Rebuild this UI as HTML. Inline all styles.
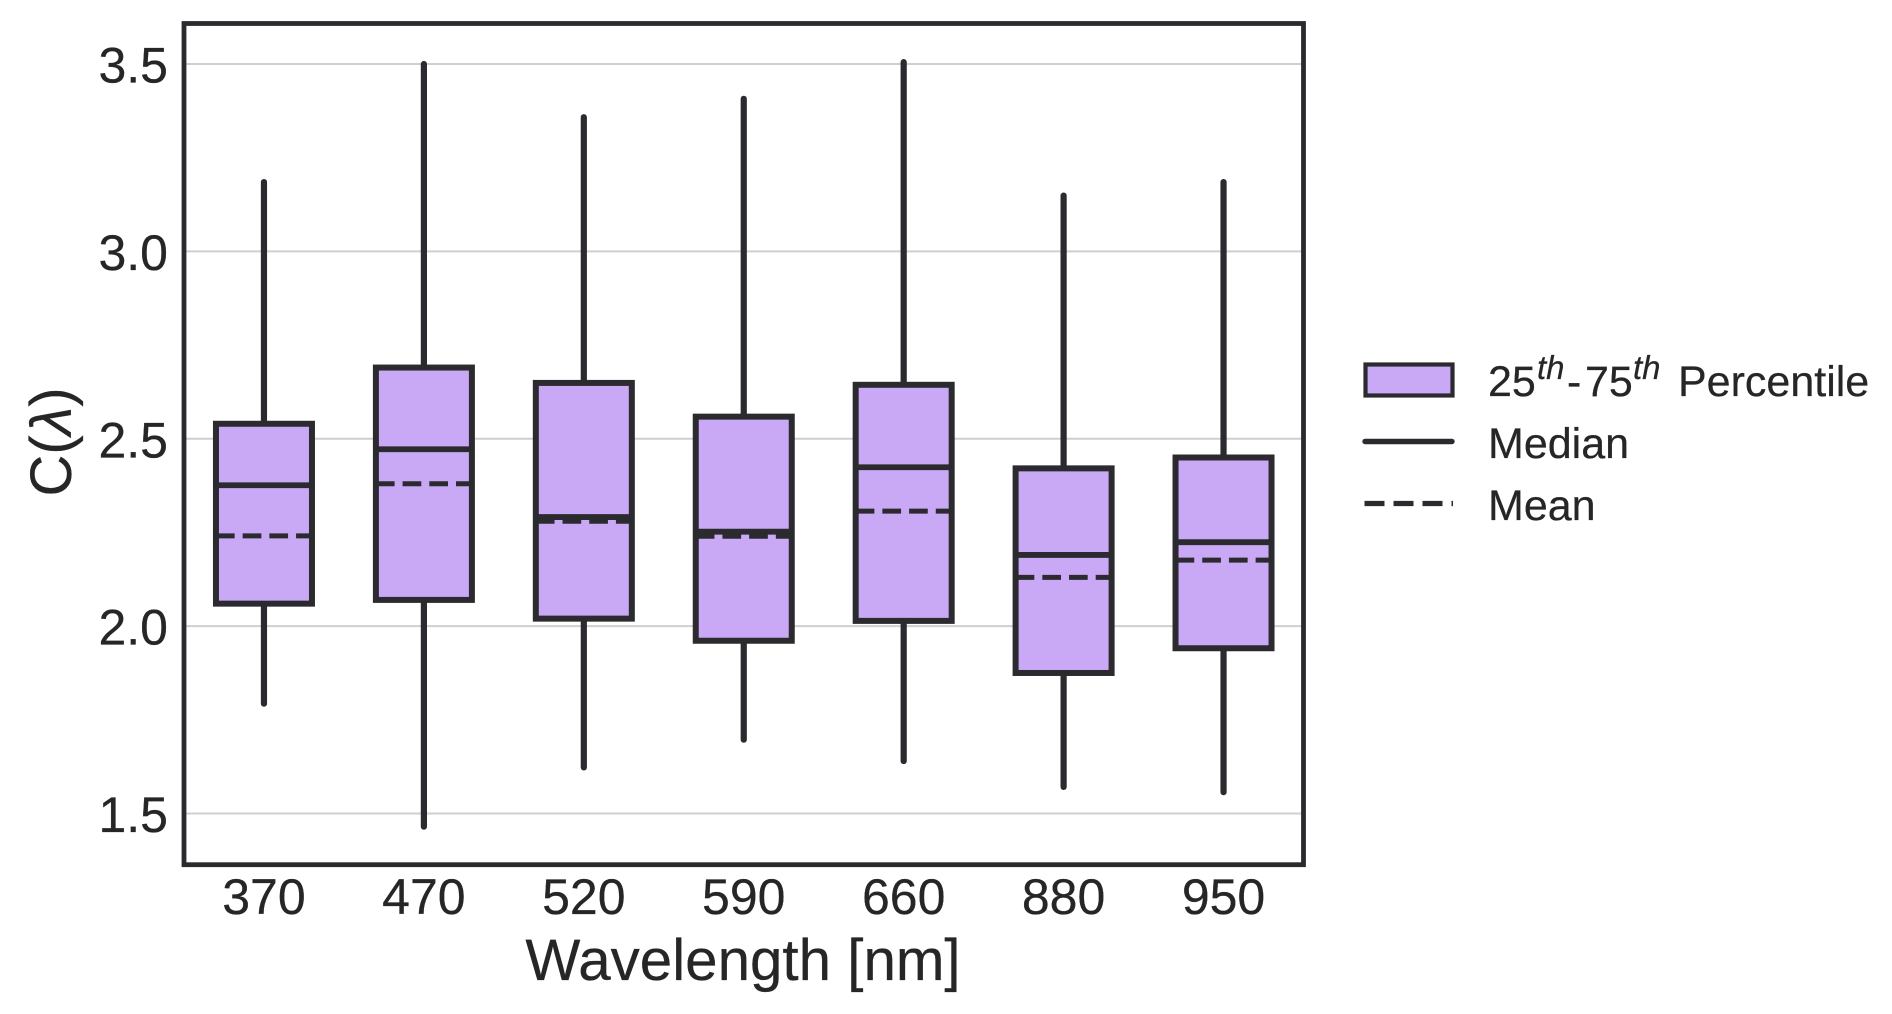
<!DOCTYPE html>
<html lang="en">
<head>
<meta charset="utf-8">
<title>C(λ) by wavelength box plot</title>
<style>
html, body { margin: 0; padding: 0; background: #fff; width: 1892px; height: 1014px; overflow: hidden; }
svg { display: block; }
text { font-family: "Liberation Sans", Arial, sans-serif; fill: #262626; stroke: #262626; stroke-width: 0.25px; }
</style>
</head>
<body>
<svg id="chart" xmlns="http://www.w3.org/2000/svg" width="1892" height="1014" viewBox="0 0 1892 1014">
  <rect x="0" y="0" width="1892" height="1014" fill="#ffffff"/>
  <g id="grid"></g>
  <g id="boxes"></g>
  <rect x="184" y="23.5" width="1119.5" height="841.2" fill="none" stroke="#2b2b2f" stroke-width="4.8"/>
  <g id="yticks"></g>
  <g id="xticks"></g>
  <text x="743" y="980" font-size="58.3" text-anchor="middle">Wavelength [nm]</text>
  <text transform="translate(71 442) rotate(-90)" font-size="58" text-anchor="middle">C(<tspan font-style="italic">λ</tspan>)</text>
  <g>
    <rect x="1365.5" y="364.5" width="87" height="31" fill="#c9a8f5" stroke="#2b2b2f" stroke-width="4.2"/>
    <text y="396" font-size="43"><tspan x="1488">25</tspan><tspan x="1537" y="379" font-size="33" font-style="italic">th</tspan><tspan x="1567" y="396">-</tspan><tspan x="1585" y="396">75</tspan><tspan x="1633" y="379" font-size="33" font-style="italic">th</tspan><tspan x="1678" y="396">Percentile</tspan></text>
    <line x1="1365" y1="441.5" x2="1452" y2="441.5" stroke="#2b2b2f" stroke-width="5.4" stroke-linecap="round"/>
    <text x="1488" y="458" font-size="43">Median</text>
    <line x1="1364.5" y1="503.5" x2="1453" y2="503.5" stroke="#2b2b2f" stroke-width="5.2" stroke-dasharray="20 9"/>
    <text x="1488" y="520" font-size="43">Mean</text>
  </g>
</svg>
<script>
const categories = ["370", "470", "520", "590", "660", "880", "950"];
const whiskerHigh = [3.185, 3.50, 3.358, 3.407, 3.505, 3.149, 3.185];
const whiskerLow = [1.793, 1.465, 1.623, 1.697, 1.64, 1.571, 1.557];
const q3 = [2.54, 2.69, 2.649, 2.559, 2.644, 2.421, 2.45];
const q1 = [2.06, 2.07, 2.02, 1.961, 2.014, 1.875, 1.941];
const medians = [2.376, 2.472, 2.291, 2.252, 2.424, 2.19, 2.224];
const means = [2.241, 2.38, 2.28, 2.24, 2.307, 2.13, 2.176];
const yTickValues = [1.5, 2.0, 2.5, 3.0, 3.5];
const yTickLabels = ["1.5", "2.0", "2.5", "3.0", "3.5"];

const NS = "http://www.w3.org/2000/svg";
const plotLeft = 184;
const plotRight = 1303.5;
const plotTop = 23.5;
const plotBottom = 864.7;
const yDomainMin = 1.3634;
const yDomainMax = 3.6081;
const boxWidth = 96;
const inkColor = "#2b2b2f";
const boxFill = "#c9a8f5";

function xScale(index) {
  const band = (plotRight - plotLeft) / categories.length;
  return plotLeft + band * (index + 0.5);
}
function yScale(value) {
  return plotBottom - (value - yDomainMin) / (yDomainMax - yDomainMin) * (plotBottom - plotTop);
}
function makeLine(x1, y1, x2, y2, width) {
  const el = document.createElementNS(NS, "line");
  el.setAttribute("x1", x1);
  el.setAttribute("y1", y1);
  el.setAttribute("x2", x2);
  el.setAttribute("y2", y2);
  el.setAttribute("stroke", inkColor);
  el.setAttribute("stroke-width", width);
  return el;
}

const gridGroup = document.getElementById("grid");
const yTickGroup = document.getElementById("yticks");
yTickValues.forEach(function (value, i) {
  const y = yScale(value);
  const gridLine = makeLine(plotLeft, y, plotRight, y, 2);
  gridLine.setAttribute("stroke", "#cfcfcf");
  
  
  gridGroup.appendChild(gridLine);

  const label = document.createElementNS(NS, "text");
  label.setAttribute("x", 168);
  label.setAttribute("y", y + 18.5);
  label.setAttribute("font-size", 50);
  label.setAttribute("text-anchor", "end");
  label.textContent = yTickLabels[i];
  
  
  yTickGroup.appendChild(label);
});

const boxGroup = document.getElementById("boxes");
const xTickGroup = document.getElementById("xticks");
categories.forEach(function (category, i) {
  const cx = xScale(i);
  const left = cx - boxWidth / 2;
  const right = cx + boxWidth / 2;

  const group = document.createElementNS(NS, "g");
  
  

  const whisker = makeLine(cx, yScale(whiskerHigh[i]), cx, yScale(whiskerLow[i]), 6.2);
  whisker.setAttribute("stroke-linecap", "round");
  
  
  group.appendChild(whisker);

  const box = document.createElementNS(NS, "rect");
  box.setAttribute("x", left);
  box.setAttribute("y", yScale(q3[i]));
  box.setAttribute("width", boxWidth);
  box.setAttribute("height", yScale(q1[i]) - yScale(q3[i]));
  box.setAttribute("fill", boxFill);
  box.setAttribute("stroke", inkColor);
  box.setAttribute("stroke-width", 6);
  
  
  group.appendChild(box);

  const median = makeLine(left, yScale(medians[i]), right, yScale(medians[i]), 5.8);
  
  
  group.appendChild(median);

  const mean = makeLine(left, yScale(means[i]), right, yScale(means[i]), 5);
  mean.setAttribute("stroke-dasharray", "18.7 8");
  
  
  group.appendChild(mean);

  boxGroup.appendChild(group);

  const label = document.createElementNS(NS, "text");
  label.setAttribute("x", cx);
  label.setAttribute("y", 914);
  label.setAttribute("font-size", 50);
  label.setAttribute("text-anchor", "middle");
  label.textContent = category;
  
  
  xTickGroup.appendChild(label);
});
</script>
</body>
</html>
